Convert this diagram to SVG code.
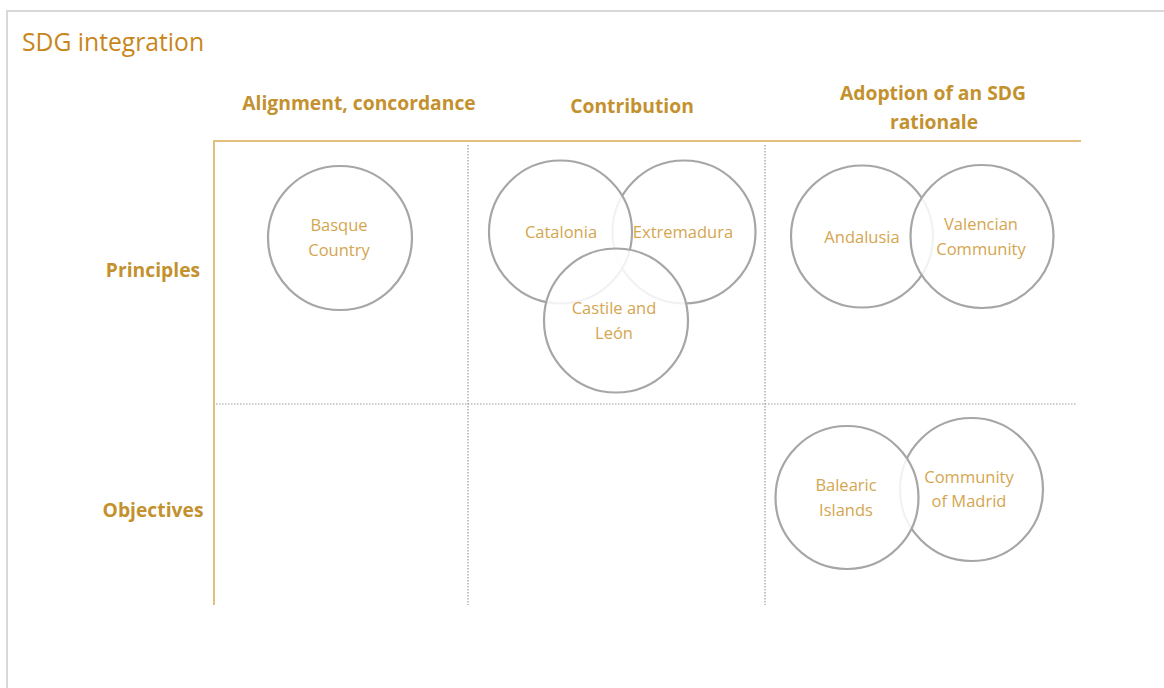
<svg xmlns="http://www.w3.org/2000/svg" width="1164" height="688" viewBox="0 0 1164 688">
<style>
.frame{fill:#fff;stroke:#d9d9d9;stroke-width:2}
.title{font-family:"Open Sans",sans-serif;font-size:24.7px;fill:#c8861a}
.hdr{font-family:"Open Sans",sans-serif;font-size:19.3px;font-weight:bold;fill:#c3912e;text-anchor:middle}
.gold{stroke:#e2bf7c;stroke-width:2;fill:none}
.dot{stroke:#9a9a9a;stroke-width:1.2;stroke-dasharray:1.5 1.5;fill:none}
.c{fill:#fff;fill-opacity:0.85;stroke:#a6a6a6;stroke-width:2.2}
.lbl{font-family:"Open Sans",sans-serif;font-size:16.5px;fill:#d4a650;text-anchor:middle}
</style>
<rect class="frame" x="7" y="11" width="1180" height="700"/>
<text class="title" x="22" y="51">SDG integration</text>
<g id="headers">
<text class="hdr" x="359" y="110">Alignment, concordance</text>
<text class="hdr" x="632" y="113">Contribution</text>
<text class="hdr" x="933" y="100">Adoption of an SDG</text>
<text class="hdr" x="934" y="129">rationale</text>
<text class="hdr" x="153" y="277">Principles</text>
<text class="hdr" x="153" y="517">Objectives</text>
</g>
<g id="grid">
<line class="dot" x1="468" y1="145" x2="468" y2="605"/>
<line class="dot" x1="765" y1="145" x2="765" y2="605"/>
<line class="dot" x1="216" y1="404" x2="1077" y2="404"/>
<line class="gold" x1="214" y1="141" x2="1081" y2="141"/>
<line class="gold" x1="214" y1="140" x2="214" y2="605"/>
</g>
<g id="basque"><circle class="c" cx="340" cy="238" r="72"/><text class="lbl" x="339" y="231">Basque</text><text class="lbl" x="339" y="256">Country</text></g>
<g id="extremadura"><circle class="c" cx="684" cy="232" r="71.5"/><text class="lbl" x="683" y="238">Extremadura</text></g>
<g id="catalonia"><circle class="c" cx="560.5" cy="232" r="71.5"/><text class="lbl" x="561" y="238">Catalonia</text></g>
<g id="castile"><circle class="c" cx="616" cy="320.5" r="72"/><text class="lbl" x="614" y="314">Castile and</text><text class="lbl" x="614" y="339">León</text></g>
<g id="andalusia"><circle class="c" cx="862" cy="236.5" r="71"/><text class="lbl" x="862" y="243">Andalusia</text></g>
<g id="valencian"><circle class="c" cx="982" cy="236.5" r="71.5"/><text class="lbl" x="981" y="230">Valencian</text><text class="lbl" x="981" y="255">Community</text></g>
<g id="madrid"><circle class="c" cx="971.5" cy="489.5" r="71.5"/><text class="lbl" x="969" y="483">Community</text><text class="lbl" x="969" y="507">of Madrid</text></g>
<g id="balearic"><circle class="c" cx="847" cy="497.5" r="71.5"/><text class="lbl" x="846" y="491">Balearic</text><text class="lbl" x="846" y="516">Islands</text></g>
</svg>
